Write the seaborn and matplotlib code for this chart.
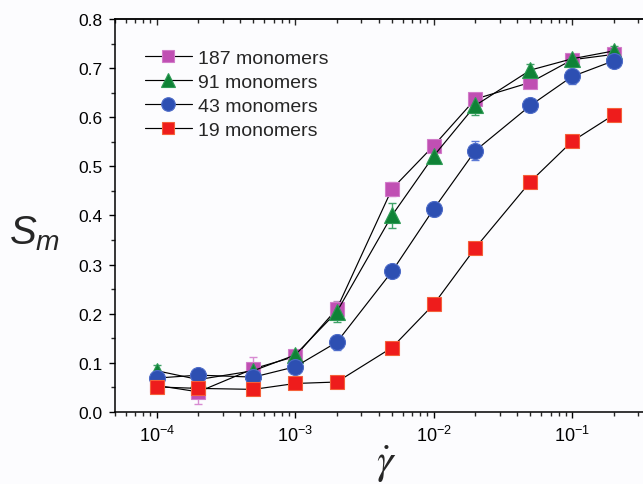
import matplotlib
matplotlib.use("Agg")
import matplotlib.pyplot as plt
import numpy as np
import pandas as pd
import seaborn as sns
from matplotlib.ticker import FixedLocator, FixedFormatter, MultipleLocator, NullFormatter, LogLocator

# Shear rate values (x) shared by every chain length
shear_rate = [1e-4, 2e-4, 5e-4, 1e-3, 2e-3, 5e-3, 1e-2, 2e-2, 5e-2, 1e-1, 2e-1]

# Order parameter S_m and its error for each chain length
sm_187 = [0.054, 0.041, 0.088, 0.113, 0.210, 0.454, 0.542, 0.637, 0.671, 0.717, 0.728]
err_187 = [0.008, 0.024, 0.024, 0.010, 0.015, 0.015, 0.008, 0.010, 0.010, 0.012, 0.010]

sm_91 = [0.084, 0.066, 0.084, 0.116, 0.204, 0.400, 0.521, 0.624, 0.696, 0.719, 0.735]
err_91 = [0.012, 0.010, 0.010, 0.010, 0.020, 0.025, 0.015, 0.020, 0.012, 0.010, 0.010]

sm_43 = [0.069, 0.075, 0.071, 0.092, 0.142, 0.286, 0.413, 0.532, 0.624, 0.683, 0.715]
err_43 = [0.008, 0.008, 0.008, 0.010, 0.015, 0.010, 0.015, 0.020, 0.010, 0.015, 0.010]

sm_19 = [0.051, 0.048, 0.046, 0.058, 0.061, 0.131, 0.219, 0.334, 0.469, 0.551, 0.605]
err_19 = [0.005, 0.005, 0.005, 0.005, 0.005, 0.005, 0.005, 0.005, 0.005, 0.005, 0.005]

labels = ["187 monomers", "91 monomers", "43 monomers", "19 monomers"]
markers = ["s", "^", "o", "s"]
face_colors = ["#C04FB3", "#0F8236", "#2D4FB2", "#EE1C1C"]
edge_colors = ["#D27CC9", "#2E9A55", "#4E6CC8", "#F5603A"]
err_colors = ["#D88BD2", "#3FA268", "#5C7AD6", "#F47A6A"]
marker_sizes = [9.8, 11.8, 11.5, 9.8]

series = [(sm_187, err_187), (sm_91, err_91), (sm_43, err_43), (sm_19, err_19)]
df = pd.concat(
    [pd.DataFrame({"rate": shear_rate, "Sm": s, "err": e, "chain": lab})
     for (s, e), lab in zip(series, labels)],
    ignore_index=True,
)

sns.set_style("ticks")
plt.rcParams["font.family"] = ["Liberation Sans", "DejaVu Sans"]
plt.rcParams["mathtext.fontset"] = "custom"
plt.rcParams["mathtext.rm"] = "Liberation Sans"
plt.rcParams["mathtext.it"] = "Liberation Sans:italic"
plt.rcParams["mathtext.bf"] = "Liberation Sans:bold"

fig = plt.figure(figsize=(6.43, 4.85), dpi=100)
fig.patch.set_facecolor("#FCFCFE")
ax = fig.add_axes([0.1788, 0.1485, 0.8616, 0.8103])
ax.set_facecolor("#FCFCFE")

for i, lab in enumerate(labels):
    sub = df[df["chain"] == lab]
    ax.errorbar(sub["rate"], sub["Sm"], yerr=sub["err"], fmt="none",
                ecolor=err_colors[i], elinewidth=1.0, capsize=3.2,
                capthick=1.0, zorder=1 + i * 0.1)
    sns.lineplot(data=sub, x="rate", y="Sm", ax=ax, estimator=None, sort=False,
                 color="black", linewidth=0.85, marker=markers[i],
                 markersize=marker_sizes[i], markerfacecolor=face_colors[i],
                 markeredgecolor=edge_colors[i], markeredgewidth=0.8,
                 label=lab, zorder=2 + i * 0.1)

ax.set_xscale("log")
ax.set_xlim(5e-5, 0.5)
ax.set_ylim(0.0, 0.8)

# x ticks: decades with superscript exponents, minor ticks at 2..9
ax.xaxis.set_major_locator(FixedLocator([1e-4, 1e-3, 1e-2, 1e-1]))
ax.xaxis.set_major_formatter(FixedFormatter([r"$10^{-4}$", r"$10^{-3}$", r"$10^{-2}$", r"$10^{-1}$"]))
ax.xaxis.set_minor_locator(LogLocator(base=10, subs=np.arange(2, 10), numticks=20))
ax.xaxis.set_minor_formatter(NullFormatter())

ax.yaxis.set_major_locator(MultipleLocator(0.1))
ax.yaxis.set_minor_locator(MultipleLocator(0.05))
ax.yaxis.set_major_formatter(matplotlib.ticker.FormatStrFormatter("%.1f"))

ax.tick_params(axis="both", which="major", direction="out", length=4.5, width=1.0,
               labelsize=12.5, pad=4.5, colors="black")
ax.tick_params(axis="both", which="minor", direction="out", length=2.8, width=1.0)
ax.tick_params(axis="x", which="major", labelsize=13, pad=5)
ax.tick_params(top=False, right=False, which="both")

# inward ticks along the top edge
top = ax.secondary_xaxis("top")
top.xaxis.set_major_locator(FixedLocator([1e-4, 1e-3, 1e-2, 1e-1]))
top.xaxis.set_minor_locator(LogLocator(base=10, subs=np.arange(2, 10), numticks=20))
top.xaxis.set_major_formatter(NullFormatter())
top.xaxis.set_minor_formatter(NullFormatter())
top.tick_params(which="major", direction="in", length=4.5, width=1.0)
top.tick_params(which="minor", direction="in", length=2.8, width=1.0)
top.spines["top"].set_linewidth(1.1)

for side in ["left", "bottom", "top", "right"]:
    ax.spines[side].set_linewidth(1.1)
    ax.spines[side].set_color("black")

ax.set_xlabel(r"$\dot{\gamma}$", fontsize=30, math_fontfamily="stix", va="center")
ax.xaxis.set_label_coords(0.49, -0.132)
ax.set_ylabel(r"$S_m$", fontsize=29, rotation=0, ha="center", va="center")
ax.yaxis.set_label_coords(-0.145, 0.455)

leg = ax.legend(loc="upper left", bbox_to_anchor=(145 / 643, 1 - 50 / 485),
                bbox_transform=fig.transFigure, frameon=False, fontsize=14,
                handlelength=2.4, handletextpad=0.35, labelspacing=0.34,
                markerscale=0.85, borderpad=0, borderaxespad=0, numpoints=1)

fig.savefig("out.png", dpi=100, facecolor=fig.get_facecolor())
